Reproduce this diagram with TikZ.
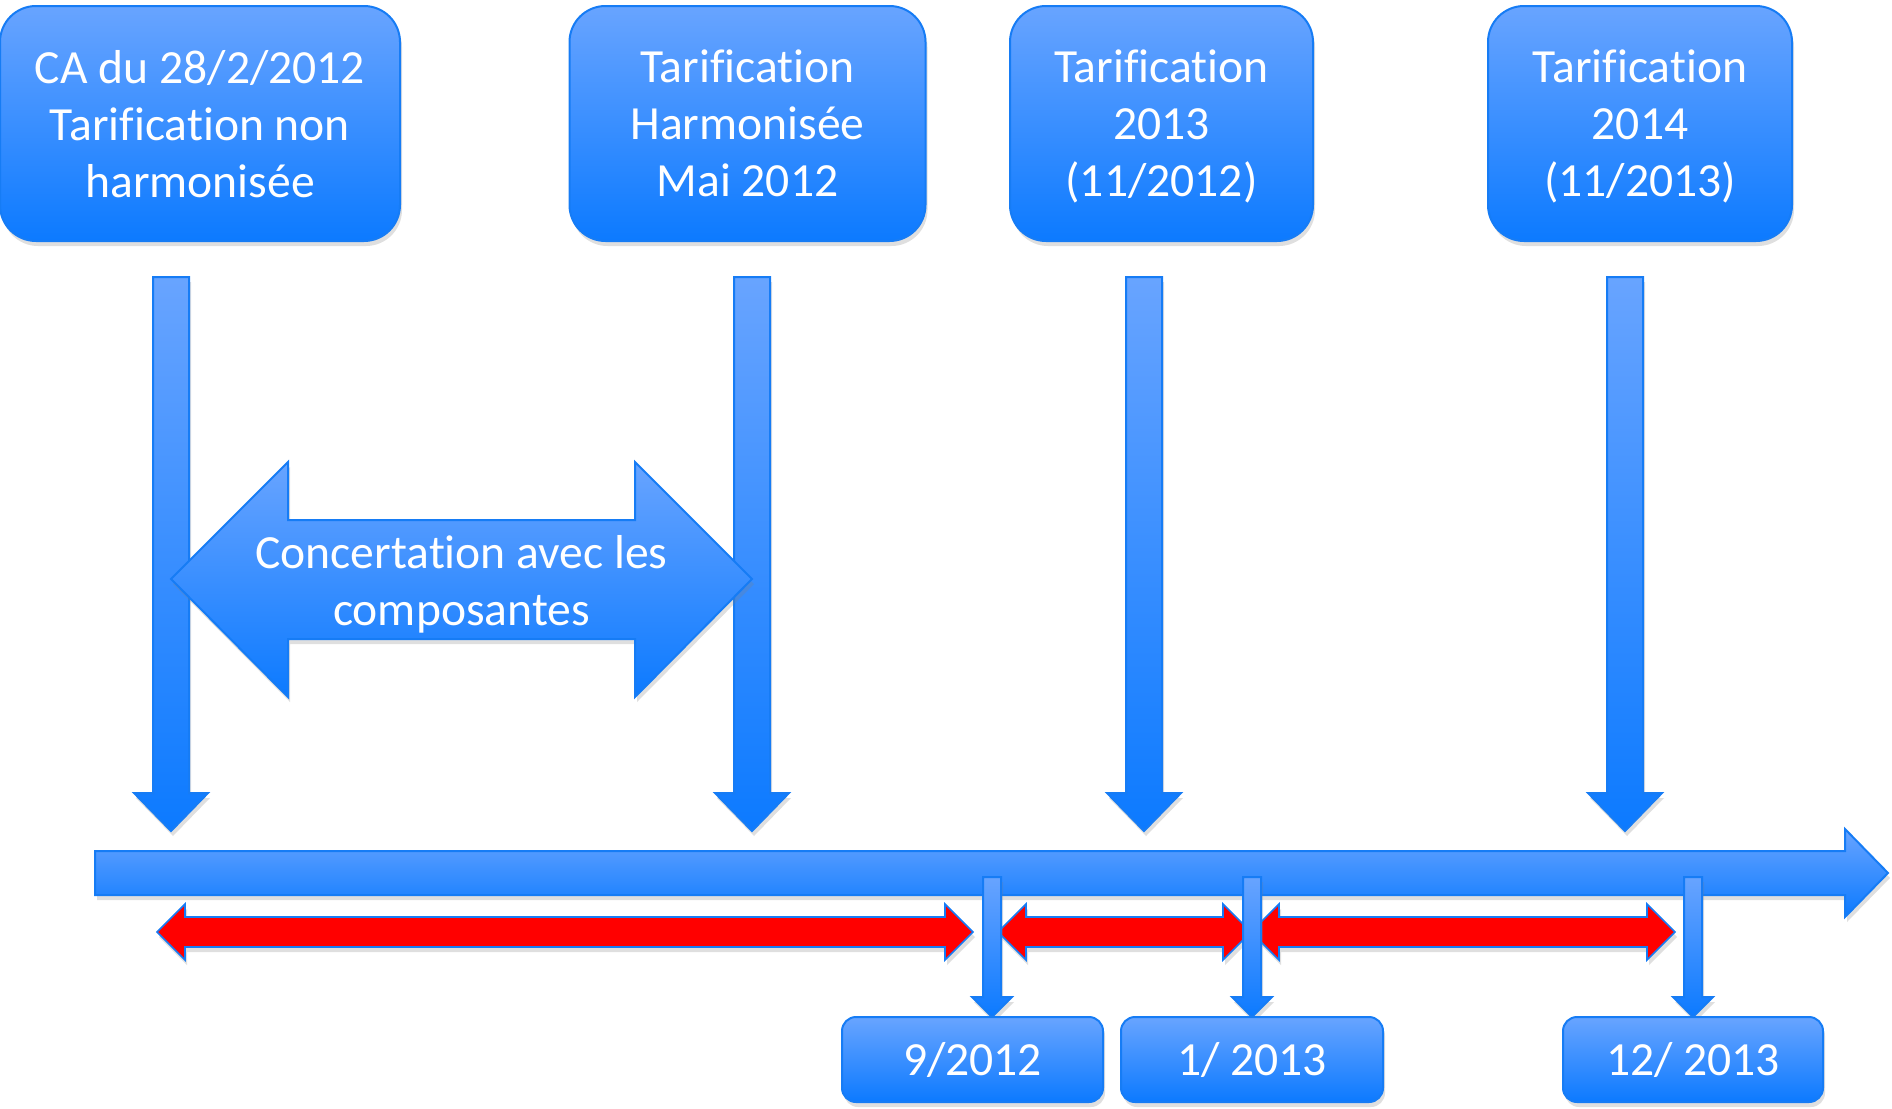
\documentclass[tikz,border=0pt]{standalone}
\usepackage{fontspec}
\setmainfont{Carlito}[Ligatures=CommonOff]
\usetikzlibrary{shadows}

\definecolor{bluetop}{RGB}{104,164,255}
\definecolor{bluebot}{RGB}{12,122,255}
\definecolor{blueline}{RGB}{22,124,245}

\begin{document}
\begin{tikzpicture}
[x=0.5pt,y=-0.5pt,
 box/.style={shape=rectangle,draw=blueline,line width=1pt,top color=bluetop,bottom color=bluebot,
   text=white,align=center,inner sep=0pt,font=\fontsize{23.8}{28.5}\selectfont,
   drop shadow={opacity=0.25,shadow xshift=1pt,shadow yshift=-2.5pt}},
 event/.style={box,rounded corners=18pt,minimum height=117.5pt,text depth=0pt},
 date/.style={box,rounded corners=7pt,minimum height=42.5pt},
 bluearrow/.style={draw=blueline,line width=1pt,top color=bluetop,bottom color=bluebot,
   drop shadow={opacity=0.25,shadow xshift=1pt,shadow yshift=-2.5pt}},
 redarrow/.style={draw=blueline,line width=0.8pt,fill=red,
   drop shadow={opacity=0.25,shadow xshift=1pt,shadow yshift=-2.5pt}}]

\useasboundingbox (0,0) rectangle (1892,1109);

\node (ca) [event,minimum width=200pt] at (200,123.5)
	{CA du 28/2/2012\\Tarification non\\harmonisée};
\node (harmo) [event,minimum width=178pt] at (747.5,123.5)
	{Tarification\\Harmonisée\\Mai 2012};
\node (tarif13) [event,minimum width=151.5pt] at (1161.5,123.5)
	{Tarification\\2013\\(11/2012)};
\node (tarif14) [event,minimum width=152pt] at (1640,123.5)
	{Tarification\\2014\\(11/2013)};

% arrows down to the time line
\foreach \x/\n in {171/d1,752/d2,1144/d3,1625/d4} {
	\coordinate (\n) at (\x,277);
	\draw [bluearrow] (\n) ++(-18,0) -- ++(36,0) -- ++(0,516) -- ++(19,0)
		-- ++(-37,38) -- ++(-37,-38) -- ++(19,0) -- cycle;
}

\draw [bluearrow] (d1 |- 0,579) -- ++(117,-117) -- ++(0,58) -- ++(347,0) -- ++(0,-58)
	-- ++(117,117) -- ++(-117,118) -- ++(0,-58) -- ++(-347,0) -- ++(0,58) -- cycle;
\node (conc) [text=white,align=center,font=\fontsize{23.8}{28.5}\selectfont]
	at (461.5,584) {Concertation avec les\\composantes};

% time line
\coordinate (start) at (95,851);
\draw [bluearrow] (start) -- ++(1750,0) -- ++(0,-22) -- ++(43,44) -- ++(-43,44)
	-- ++(0,-22) -- ++(-1750,0) -- cycle;

\foreach \l/\r in {157/973,998/1251,1251/1675}
	\draw [redarrow] (\l,932) -- ++(28,-28) -- ++(0,13) -- (\r-28,917) -- ++(0,-13)
		-- ++(28,28) -- ++(-28,28) -- ++(0,-13) -- (\l+28,947) -- ++(0,13) -- cycle;

\foreach \x/\n in {992/m1,1252/m2,1693/m3} {
	\coordinate (\n) at (\x,877);
	\draw [bluearrow] (\n) ++(-9,0) -- ++(18,0) -- ++(0,120) -- ++(11,0)
		-- ++(-20,20) -- ++(-20,-20) -- ++(11,0) -- cycle;
}

\node (sep12) [date,minimum width=130.5pt] at (972.5,1059.5) {9/2012};
\node (jan13) [date,minimum width=131pt] at (1252,1059.5) {1/ 2013};
\node (dec13) [date,minimum width=130pt] at (1693,1059.5) {12/ 2013};
\end{tikzpicture}
\end{document}
